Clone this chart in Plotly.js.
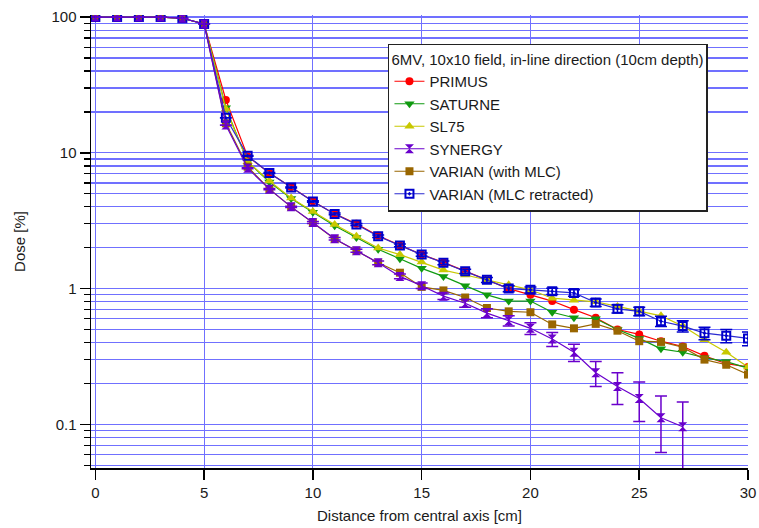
<!DOCTYPE html>
<html>
<head>
<meta charset="utf-8">
<script src="https://cdn.plot.ly/plotly-3.0.1.min.js"></script>
<style>html,body{margin:0;padding:0;background:#fff;}#chart{width:759px;height:528px;}</style>
</head>
<body>
<div id="chart"></div>
<script>
const distance = [0,1,2,3,4,5,6,7,8,9,10,11,12,13,14,15,16,17,18,19,20,21,22,23,24,25,26,27,28,29,30];
const distanceSynergy = [0,1,2,3,4,5,6,7,8,9,10,11,12,13,14,15,16,17,18,19,20,21,22,23,24,25,26,27];

const primus  = [100,100,100,100,98,89,24.5,9.4,7.1,5.6,4.4,3.55,3.0,2.45,2.08,1.78,1.56,1.34,1.16,1.0,0.90,0.81,0.70,0.61,0.50,0.46,0.41,0.375,0.32,0.28,0.265];
const saturne = [100,100,100,100,98,89,21.5,8.6,6.1,4.6,3.65,2.9,2.38,1.95,1.66,1.41,1.23,1.05,0.90,0.81,0.81,0.67,0.61,0.60,0.50,0.43,0.36,0.34,0.31,0.29,0.26];
const sl75    = [100,100,100,100,98,89,21,8.6,6.2,4.65,3.7,2.97,2.43,1.99,1.78,1.57,1.37,1.26,1.16,1.07,0.98,0.85,0.82,0.80,0.74,0.68,0.63,0.53,0.42,0.34,0.265];
const synergy = [100,100,100,100,98,89,16,7.7,5.4,4.0,3.07,2.33,1.9,1.55,1.23,1.05,0.88,0.78,0.66,0.58,0.51,0.425,0.34,0.24,0.19,0.155,0.112,0.096];
const synergyErr = [0.05,0.05,0.05,0.05,0.05,0.05,0.05,0.05,0.05,0.05,0.05,0.05,0.05,0.05,0.05,0.05,0.05,0.05,0.05,0.05,0.05,0.05,0.05,0.05,0.05,0.05,0.05,0.05];
const varianMLC = [100,100,100,100,98,89,16.5,7.9,5.4,4.0,3.05,2.32,1.9,1.55,1.31,1.03,0.97,0.86,0.72,0.68,0.67,0.545,0.51,0.55,0.49,0.41,0.405,0.37,0.30,0.275,0.233];
const varianRetracted = [100,100,100,100,98,89,18.1,9.5,7.1,5.56,4.38,3.55,2.97,2.43,2.08,1.78,1.55,1.34,1.16,1.0,0.98,0.955,0.93,0.79,0.71,0.68,0.575,0.53,0.47,0.45,0.43];
const varianRetractedErr = [0.05,0.05,0.05,0.05,0.05,0.05,0.05,0.05,0.05,0.05,0.05,0.05,0.05,0.05,0.05,0.05,0.05,0.05,0.05,0.05,0.05,0.05,0.05,0.05,0.05,0.05,0.05,0.05,0.05,0.05,0.05];

const xTicks = [0,5,10,15,20,25,30];
const yTicks = [0.1,1,10,100];
const yTickText = ['0.1','1','10','100'];

const minorVals = [];
[0.01,0.1,1,10].forEach(d => { for (let k=2;k<=9;k++) minorVals.push(+(k*d).toPrecision(3)); });

const lw = 1.2;
const traces = [
  {name:'PRIMUS', x:distance, y:primus, legendrank:1,
   mode:'lines+markers', line:{color:'#ff0000',width:lw}, marker:{symbol:'circle',size:8,color:'#ff0000'}},
  {name:'SATURNE', x:distance, y:saturne, legendrank:2,
   mode:'lines+markers', line:{color:'#109a10',width:lw}, marker:{symbol:'triangle-down',size:9,color:'#109a10'}},
  {name:'SL75', x:distance, y:sl75, legendrank:3,
   mode:'lines+markers', line:{color:'#c8c800',width:lw}, marker:{symbol:'triangle-up',size:9,color:'#c8c800'}},
  {name:'VARIAN (with MLC)', x:distance, y:varianMLC, legendrank:5,
   mode:'lines+markers', line:{color:'#996600',width:lw}, marker:{symbol:'square',size:8,color:'#996600'}},
  {name:'VARIAN (MLC retracted)', x:distance, y:varianRetracted, legendrank:6,
   error_y:{type:'data', array:varianRetractedErr, color:'#0000cc', thickness:1.5, width:6},
   mode:'lines+markers', line:{color:'#2a2ad0',width:lw}, marker:{symbol:'square-open-dot',size:8,color:'#0000cc',line:{width:2}}},
  {name:'SYNERGY', x:distanceSynergy, y:synergy, legendrank:4,
   error_y:{type:'data', array:synergyErr, color:'#6a00cc', thickness:1.5, width:6},
   mode:'lines+markers', line:{color:'#6a00cc',width:lw}, marker:{symbol:'hourglass',size:9,color:'#6a00cc'}}
];

const gridColor = '#7070ff';
const layout = {
  width:759, height:528,
  margin:{l:91, r:11, t:15, b:60},
  paper_bgcolor:'#ffffff', plot_bgcolor:'#ffffff',
  font:{family:'Arial, Liberation Sans, sans-serif', size:15, color:'#1a1a1a'},
  showlegend:true,
  legend:{
    x:0.452, y:0.936, xanchor:'left', yanchor:'top',
    bgcolor:'#ffffff', bordercolor:'#222222', borderwidth:1.5,
    font:{size:15, color:'#1a1a1a'},
    title:{text:'6MV, 10x10 field, in-line direction (10cm depth)', font:{size:15}},
    tracegroupgap:0, itemwidth:30
  },
  xaxis:{
    range:[-0.2,30], tickmode:'array', tickvals:xTicks,
    showgrid:true, gridcolor:gridColor, gridwidth:1.2,
    zeroline:false, showline:true, linecolor:'#000', linewidth:1.5,
    ticks:'outside', ticklen:10, tickwidth:1.5, tickcolor:'#000',
    tickfont:{size:15},
    title:{text:'Distance from central axis [cm]', font:{size:15}, standoff:11}
  },
  yaxis:{
    type:'log', range:[-1.321,2.015], tickmode:'array', tickvals:yTicks, ticktext:yTickText,
    showgrid:true, gridcolor:gridColor, gridwidth:1.2,
    zeroline:false, showline:true, linecolor:'#000', linewidth:1.5,
    ticks:'outside', ticklen:10, tickwidth:1.5, tickcolor:'#000',
    tickfont:{size:15},
    minor:{tickmode:'array', tickvals:minorVals, ticks:'outside', ticklen:6, tickwidth:1.2, tickcolor:'#000',
           showgrid:true, gridcolor:gridColor, gridwidth:1.2},
    title:{text:'Dose [%]', font:{size:15}, standoff:22}
  }
};

Plotly.newPlot('chart', traces, layout, {displayModeBar:false, staticPlot:true});
</script>
</body>
</html>
